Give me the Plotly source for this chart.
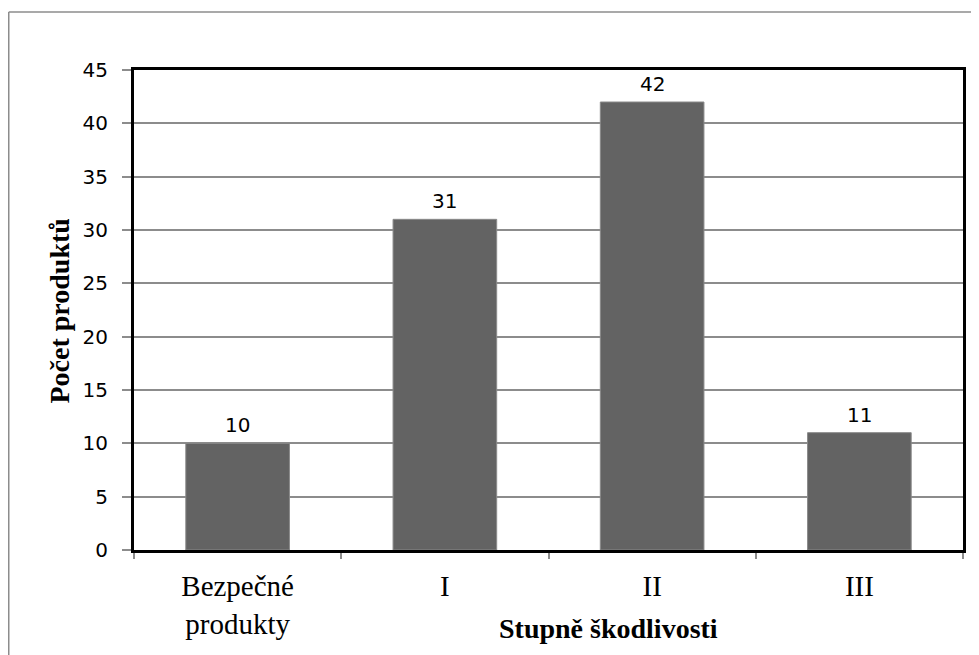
import plotly.graph_objects as go

categories = ["Bezpečné<br>produkty", "I", "II", "III"]
values = [10, 31, 42, 11]
y_ticks = [0, 5, 10, 15, 20, 25, 30, 35, 40, 45]
x_title = "Stupně škodlivosti"
y_title = "Počet produktů"

# page body has an 8px margin, so the figure starts at (8, 8) on the page
OFF = 8
W, H = 979 - OFF, 655 - OFF
L, T = 134 - OFF, 70 - OFF
R = W - (963 - OFF)
B = H - (550 - OFF)
pw, ph = W - L - R, H - T - B

def px_x(px):
    return (px - OFF - L) / pw

def px_y(py):
    return (H - B - (py - OFF)) / ph

fig = go.Figure()
fig.add_trace(go.Bar(
    x=categories, y=values,
    marker=dict(color="#636363", line=dict(color="#8a8a8a", width=1)),
    width=0.5,
    hoverinfo="skip",
))

for c, v in zip(categories, values):
    fig.add_annotation(x=c, y=v, xref="x", yref="y", text=str(v), showarrow=False,
                       yanchor="bottom", yshift=4,
                       font=dict(family="DejaVu Sans", size=20, color="black"))

fig.add_annotation(x=px_x(608), y=px_y(628), xref="paper", yref="paper", text=f"<b>{x_title}</b>",
                   showarrow=False, xanchor="center", yanchor="middle",
                   font=dict(family="Liberation Serif", size=28, color="black"))
fig.add_annotation(x=px_x(58.5), y=px_y(311), xref="paper", yref="paper", text=f"<b>{y_title}</b>",
                   showarrow=False, xanchor="center", yanchor="middle", textangle=-90,
                   font=dict(family="Liberation Serif", size=28, color="black"))

# outer chart frame (left and top edges visible)
fig.add_shape(type="line", xref="paper", yref="paper", x0=px_x(8.75), x1=px_x(8.75), y0=px_y(700), y1=px_y(12),
              line=dict(color="#8c8c8c", width=1.5))
fig.add_shape(type="line", xref="paper", yref="paper", x0=px_x(8.75), x1=px_x(1000), y0=px_y(12), y1=px_y(12),
              line=dict(color="#8c8c8c", width=1.5))

fig.update_layout(
    width=W, height=H,
    margin=dict(l=L, r=R, t=T, b=B, pad=0),
    paper_bgcolor="white", plot_bgcolor="white",
    showlegend=False,
    bargap=0.5,
    xaxis=dict(
        type="category",
        showline=True, linecolor="black", linewidth=3, mirror=True,
        ticks="outside", tickson="boundaries", ticklen=6, tickcolor="#8c8c8c", tickwidth=1.5,
        showgrid=False,
        tickfont=dict(family="Liberation Serif", size=29, color="black"),
        ticklabelstandoff=8,
    ),
    yaxis=dict(
        range=[0, 45], tickvals=y_ticks,
        showline=True, linecolor="black", linewidth=3, mirror=True,
        ticks="outside", ticklen=9, tickcolor="#8c8c8c", tickwidth=1.5,
        showgrid=True, gridcolor="#8c8c8c", gridwidth=1.5,
        zeroline=False,
        tickfont=dict(family="DejaVu Sans", size=20, color="black"),
        ticklabelstandoff=10,
    ),
)

fig.write_html("out.html")
